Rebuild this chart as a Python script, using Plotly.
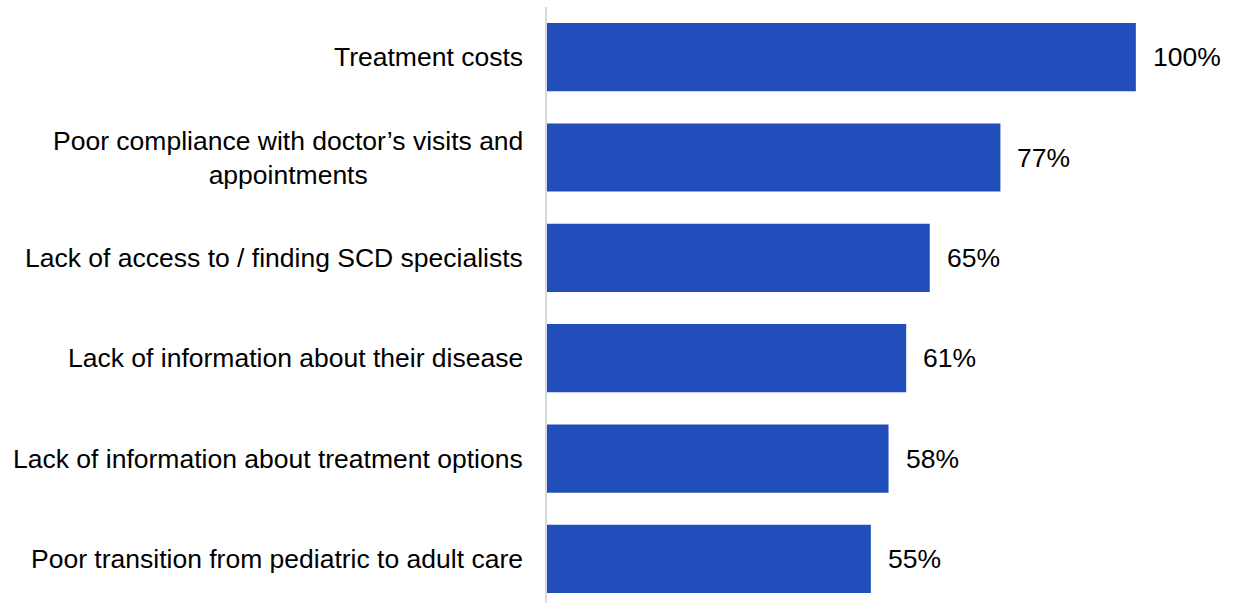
import plotly.graph_objects as go

categories = [
    "Treatment costs",
    "Poor compliance with doctor’s visits and<br>appointments",
    "Lack of access to / finding SCD specialists",
    "Lack of information about their disease",
    "Lack of information about treatment options",
    "Poor transition from pediatric to adult care",
]
values = [100, 77, 65, 61, 58, 55]
value_labels = ["100%", "77%", "65%", "61%", "58%", "55%"]

BAR = "#214EBA"
FONT = dict(family="Liberation Sans, Arial, sans-serif", size=26.5, color="#000000")

fig = go.Figure(go.Bar(
    y=list(range(len(categories))), x=values, orientation="h",
    marker=dict(color=BAR, line=dict(width=0)),
    width=0.68, hoverinfo="skip",
))

for i, (c, v, t) in enumerate(zip(categories, values, value_labels)):
    fig.add_annotation(x=v, y=i, xref="x", yref="y", text=t, showarrow=False,
                       xanchor="left", yanchor="middle", xshift=15, font=FONT)
    fig.add_annotation(x=0, y=i, xref="paper", yref="y", text=c, showarrow=False,
                       xanchor="right", yanchor="middle", xshift=-22, align="center",
                       font=FONT)

fig.update_layout(
    width=1233, height=603,
    margin=dict(l=547, r=0, t=7, b=0),
    plot_bgcolor="white", paper_bgcolor="white",
    showlegend=False, font=FONT,
    xaxis=dict(range=[0, 116.5], showgrid=False, zeroline=False, showticklabels=False,
               showline=False),
    yaxis=dict(range=[5.44, -0.5], showgrid=False, zeroline=False, showticklabels=False,
               showline=True, linecolor="#D9D9D9", linewidth=2),
)

fig.write_html("out.html")
